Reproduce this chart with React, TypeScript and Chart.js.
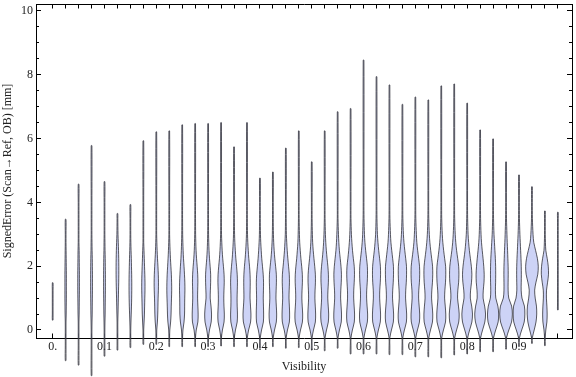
import React, { useEffect, useRef } from "react";
import { Chart, registerables } from "chart.js";

Chart.register(...registerables);

// ---------- data ----------
const categories = [
  0, 0.025, 0.05, 0.075, 0.1, 0.125, 0.15, 0.175, 0.2, 0.225,
  0.25, 0.275, 0.3, 0.325, 0.35, 0.375, 0.4, 0.425, 0.45, 0.475,
  0.5, 0.525, 0.55, 0.575, 0.6, 0.625, 0.65, 0.675, 0.7, 0.725,
  0.75, 0.775, 0.8, 0.825, 0.85, 0.875, 0.9, 0.925, 0.95, 0.975,
];

const minValues = [
  0.31, -0.96, -1.1, -1.43, -0.82, -0.63, -0.55, -0.45, -0.45, -0.52,
  -0.52, -0.52, -0.52, -0.5, -0.52, -0.52, -0.57, -0.52, -0.57, -0.55,
  -0.63, -0.65, -0.57, -0.75, -0.75, -0.75, -0.77, -0.77, -0.84, -0.84,
  -0.87, -0.78, -0.75, -0.68, -0.68, -0.6, -0.52, -0.42, -0.49, 0.63,
];

const maxValues = [
  1.48, 3.47, 4.57, 5.78, 4.65, 3.65, 3.93, 5.93, 6.21, 6.24,
  6.43, 6.47, 6.47, 6.5, 5.74, 6.5, 4.76, 4.95, 5.7, 6.24,
  5.27, 6.24, 6.84, 6.94, 8.46, 7.94, 7.68, 7.07, 7.3, 7.21,
  7.65, 7.71, 7.11, 6.27, 5.99, 5.27, 4.86, 4.49, 3.73, 3.69,
];

// levels at which the violin density (half width) is sampled
const profileLevels = [-0.5, -0.25, 0, 0.25, 0.5, 0.75, 1, 1.25, 1.5, 1.75, 2, 2.25, 2.5, 2.75, 3, 3.5, 4];

// relative density (half width) of each violin at profileLevels
const densityProfiles = [
  [0, 0, 0, 0, 0.3, 0.4, 0.4, 0.4, 0.3, 0, 0, 0, 0, 0, 0, 0, 0],
  [0, 0, 0.2, 0.4, 0.6, 0.7, 0.8, 0.8, 0.8, 0.8, 0.7, 0.6, 0.5, 0.4, 0.3, 0.1, 0],
  [0, 0, 0.2, 0.4, 0.6, 0.7, 0.8, 0.9, 0.9, 0.9, 0.8, 0.7, 0.6, 0.4, 0.3, 0.2, 0.1],
  [0, 0.1, 0.3, 0.5, 0.7, 0.8, 0.9, 1.0, 1.0, 1.0, 0.9, 0.8, 0.6, 0.5, 0.3, 0.2, 0.1],
  [0, 0.1, 0.3, 0.5, 0.7, 0.8, 0.9, 1.0, 1.0, 1.0, 0.9, 0.8, 0.6, 0.5, 0.3, 0.2, 0.1],
  [0, 0.1, 0.2, 0.4, 0.6, 0.8, 1.0, 1.2, 1.4, 1.5, 1.5, 1.4, 1.2, 0.9, 0.6, 0.2, 0],
  [0, 0.1, 0.3, 0.6, 0.9, 1.2, 1.4, 1.5, 1.5, 1.4, 1.2, 1.0, 0.7, 0.5, 0.3, 0.2, 0.1],
  [0, 0.1, 0.3, 0.8, 1.2, 1.4, 1.6, 1.8, 1.8, 1.6, 1.3, 1.0, 0.7, 0.4, 0.3, 0.2, 0.1],
  [0, 0.1, 0.5, 1.2, 1.6, 1.8, 2.0, 2.3, 2.4, 2.2, 1.8, 1.3, 0.9, 0.6, 0.4, 0.2, 0.1],
  [0, 0.1, 0.6, 1.5, 2.0, 2.2, 2.5, 2.7, 2.6, 2.3, 1.8, 1.3, 0.9, 0.6, 0.4, 0.2, 0.1],
  [0, 0.2, 0.8, 2.0, 2.6, 2.7, 2.8, 3.0, 2.9, 2.5, 2.0, 1.4, 1.0, 0.7, 0.5, 0.3, 0.1],
  [0, 0.2, 1.2, 3.0, 3.3, 3.0, 2.7, 2.8, 3.0, 2.8, 2.2, 1.5, 1.0, 0.7, 0.5, 0.3, 0.1],
  [0, 0.3, 1.5, 3.4, 3.8, 3.2, 2.3, 2.5, 2.8, 2.8, 2.2, 1.5, 1.0, 0.7, 0.5, 0.3, 0.1],
  [0, 0.3, 1.5, 3.3, 3.6, 3.2, 3.0, 3.2, 3.5, 3.3, 2.6, 1.8, 1.2, 0.8, 0.5, 0.3, 0.1],
  [0, 0.3, 1.6, 3.5, 3.8, 3.5, 3.4, 3.6, 3.8, 3.5, 2.8, 2.0, 1.4, 0.9, 0.6, 0.3, 0.1],
  [0, 0.3, 1.8, 4.0, 4.4, 3.9, 3.4, 3.5, 3.6, 3.4, 2.8, 2.0, 1.4, 0.9, 0.6, 0.3, 0.1],
  [0, 0.3, 1.8, 3.8, 4.1, 3.9, 3.7, 3.9, 4.0, 3.6, 2.8, 2.0, 1.4, 0.9, 0.6, 0.3, 0.1],
  [0, 0.3, 1.8, 3.8, 4.2, 3.8, 3.4, 3.6, 3.9, 3.8, 3.0, 2.1, 1.4, 0.9, 0.6, 0.3, 0.1],
  [0, 0.3, 1.8, 3.9, 4.2, 3.9, 3.5, 3.7, 4.0, 3.8, 3.0, 2.2, 1.5, 1.0, 0.6, 0.3, 0.1],
  [0, 0.3, 1.9, 4.0, 4.3, 3.8, 3.4, 3.6, 4.0, 3.9, 3.2, 2.3, 1.6, 1.0, 0.7, 0.3, 0.1],
  [0, 0.3, 1.9, 4.0, 4.3, 3.9, 3.5, 3.7, 4.1, 4.0, 3.3, 2.4, 1.6, 1.0, 0.7, 0.3, 0.1],
  [0, 0.3, 2.0, 4.0, 4.4, 3.9, 3.4, 3.6, 4.1, 4.1, 3.5, 2.6, 1.8, 1.2, 0.8, 0.4, 0.1],
  [0, 0.3, 2.0, 4.0, 4.3, 3.8, 3.3, 3.5, 4.0, 4.2, 3.7, 2.8, 1.9, 1.3, 0.9, 0.4, 0.2],
  [0, 0.4, 2.0, 4.1, 4.4, 3.9, 3.4, 3.5, 4.0, 4.3, 4.0, 3.0, 2.1, 1.4, 0.9, 0.4, 0.2],
  [0, 0.4, 2.1, 4.2, 4.5, 3.9, 3.4, 3.5, 4.1, 4.4, 4.2, 3.3, 2.3, 1.5, 1.0, 0.5, 0.2],
  [0, 0.4, 2.1, 4.2, 4.5, 4.0, 3.5, 3.6, 4.2, 4.5, 4.3, 3.4, 2.4, 1.6, 1.0, 0.5, 0.2],
  [0, 0.4, 2.2, 4.3, 4.6, 4.0, 3.4, 3.6, 4.2, 4.5, 4.4, 3.5, 2.5, 1.6, 1.1, 0.5, 0.2],
  [0, 0.4, 2.2, 4.4, 4.7, 4.1, 3.5, 3.7, 4.3, 4.6, 4.5, 3.6, 2.6, 1.7, 1.1, 0.5, 0.2],
  [0, 0.4, 2.3, 4.5, 4.8, 4.2, 3.6, 3.8, 4.5, 4.8, 4.6, 3.6, 2.5, 1.6, 1.1, 0.5, 0.2],
  [0, 0.5, 2.4, 4.6, 4.9, 4.3, 3.6, 3.9, 4.6, 4.9, 4.7, 3.7, 2.6, 1.7, 1.1, 0.5, 0.2],
  [0, 0.5, 2.4, 4.7, 5.0, 4.4, 3.7, 4.0, 4.7, 5.0, 4.8, 3.7, 2.6, 1.7, 1.1, 0.5, 0.2],
  [0, 0.5, 2.6, 5.0, 5.5, 4.7, 3.7, 4.0, 4.9, 5.2, 4.9, 3.8, 2.6, 1.7, 1.1, 0.5, 0.2],
  [0, 0.5, 2.7, 5.2, 5.9, 5.0, 3.5, 3.8, 4.8, 5.2, 4.6, 3.5, 2.4, 1.6, 1.0, 0.5, 0.2],
  [0, 0.5, 2.7, 5.2, 6.0, 5.0, 3.3, 3.5, 4.3, 4.5, 4.0, 3.2, 2.3, 1.5, 1.0, 0.5, 0.2],
  [0, 0.5, 2.9, 5.6, 6.2, 5.3, 3.0, 2.6, 2.8, 2.9, 2.8, 2.5, 2.0, 1.5, 1.0, 0.5, 0.2],
  [0, 0.5, 3.1, 6.1, 7.0, 6.2, 3.0, 2.3, 2.3, 2.4, 2.3, 2.0, 1.7, 1.3, 1.0, 0.5, 0.2],
  [0, 0.5, 3.0, 5.8, 6.5, 6.0, 3.3, 2.4, 2.5, 2.6, 2.5, 2.2, 1.8, 1.4, 1.0, 0.5, 0.2],
  [0, 0.4, 2.5, 4.5, 5.3, 5.0, 3.6, 3.0, 4.5, 6.5, 7.0, 6.0, 4.0, 2.0, 1.2, 0.5, 0.2],
  [0, 0.2, 1.0, 2.2, 2.5, 2.2, 1.7, 1.8, 3.0, 4.0, 3.7, 2.5, 1.0, 0.6, 0.4, 0.2, 0.1],
  [0, 0, 0, 0, 0, 0, 0.2, 0.2, 0.2, 0.2, 0.2, 0.2, 0.2, 0.2, 0.2, 0.1, 0],
];

const yMajorTicks = [0, 2, 4, 6, 8, 10];
const yMinorTicks = [0, 0.5, 1, 1.5, 2, 2.5, 3, 3.5, 4, 4.5, 5, 5.5, 6, 6.5, 7, 7.5, 8, 8.5, 9, 9.5, 10];
const xLabelValues = [0, 0.1, 0.2, 0.3, 0.4, 0.5, 0.6, 0.7, 0.8, 0.9];
const xLabelTexts = ["0.", "0.1", "0.2", "0.3", "0.4", "0.5", "0.6", "0.7", "0.8", "0.9"];
const xAxisTitle = "Visibility";
const yAxisTitle = "SignedError (Scan\u2192Ref, OB) [mm]";

// ---------- styling / layout constants ----------
const X_MIN = -0.0322;
const X_MAX = 1.0023;
const Y_MIN = -0.251;
const Y_MAX = 10.219;
const DENSITY_SCALE = 0.9 / 518; // density units -> x-axis units
const TAIL_HALF = 0.35 / 518; // stroke separation for the thin tails (style)
const FONT = "'Liberation Serif', 'Times New Roman', serif";
const TEXT_COLOR = "#222";
const FILL = "#cdd3f6";
const EDGE = "rgba(60,60,68,0.85)";

function violinPoints(i: number) {
  const cx = categories[i];
  const lo = minValues[i];
  const hi = maxValues[i];
  const d = densityProfiles[i];
  const right: { x: number; y: number }[] = [{ x: cx + TAIL_HALF, y: lo }];
  profileLevels.forEach((lv, k) => {
    if (lv > lo + 0.05 && lv < hi - 0.05) {
      right.push({ x: cx + Math.max(d[k] * DENSITY_SCALE, TAIL_HALF), y: lv });
    }
  });
  right.push({ x: cx + TAIL_HALF, y: hi });
  const left = right
    .slice()
    .reverse()
    .map((p) => ({ x: 2 * cx - p.x, y: p.y }));
  return [...right, ...left, { x: cx + TAIL_HALF, y: lo }];
}

const fixedTicks = (values: number[]) => (scale: any) => {
  scale.ticks = values.map((v) => ({ value: v }));
};

const sizeFit = (w: number | null, h: number | null) => (scale: any) => {
  if (w !== null) scale.width = w;
  if (h !== null) scale.height = h;
  scale.paddingLeft = 0;
  scale.paddingRight = 0;
  scale.paddingTop = 0;
  scale.paddingBottom = 0;
};

const frameAxis = (
  position: string,
  ticks: number[],
  tickLength: number,
  w: number | null,
  h: number | null,
  weight: number,
  isX: boolean
) => ({
  type: "linear",
  position,
  weight,
  min: isX ? X_MIN : Y_MIN,
  max: isX ? X_MAX : Y_MAX,
  afterBuildTicks: fixedTicks(ticks),
  afterFit: sizeFit(w, h),
  grid: {
    drawOnChartArea: false,
    drawTicks: true,
    tickLength,
    tickColor: "#000",
    tickWidth: 1,
  },
  border: { display: true, color: "#000", width: 1 },
  ticks: { display: false, autoSkip: false },
  title: { display: false },
});

export default function App() {
  const ref = useRef<HTMLCanvasElement>(null);

  useEffect(() => {
    if (!ref.current) return;
    const datasets = categories.map((c, i) => ({
      label: String(c),
      data: violinPoints(i),
      xAxisID: "x",
      yAxisID: "y",
      showLine: true,
      fill: "shape",
      backgroundColor: FILL,
      borderColor: EDGE,
      borderWidth: 1,
      tension: 0.3,
      pointRadius: 0,
      pointHoverRadius: 0,
      clip: false,
    }));

    const chart = new Chart(ref.current, {
      type: "line",
      data: { datasets } as any,
      options: {
        animation: false,
        responsive: false,
        maintainAspectRatio: false,
        events: [],
        layout: { padding: { left: 0, top: 4, right: 4, bottom: 0 } },
        plugins: { legend: { display: false }, tooltip: { enabled: false } },
        elements: { line: { capBezierPoints: false } },
        scales: {
          x: {
            type: "linear",
            position: "bottom",
            min: X_MIN,
            max: X_MAX,
            afterBuildTicks: fixedTicks(categories),
            afterFit: sizeFit(null, 39),
            grid: { drawOnChartArea: false, drawTicks: true, tickLength: -4.5, tickColor: "#000", tickWidth: 1 },
            border: { display: true, color: "#000", width: 1 },
            ticks: {
              autoSkip: false,
              maxRotation: 0,
              minRotation: 0,
              padding: 6.5,
              color: TEXT_COLOR,
              font: { family: FONT, size: 12 },
              callback: (value: any) => {
                const k = xLabelValues.findIndex((v) => Math.abs(v - Number(value)) < 1e-6);
                return k >= 0 ? xLabelTexts[k] : "";
              },
            },
            title: {
              display: true,
              text: xAxisTitle,
              color: TEXT_COLOR,
              font: { family: FONT, size: 12 },
              padding: { top: 0, bottom: 2.8 },
            },
          },
          xTop: frameAxis("top", categories, -4.5, null, 0, 0, true),
          y: {
            type: "linear",
            position: "left",
            weight: 1,
            min: Y_MIN,
            max: Y_MAX,
            afterBuildTicks: fixedTicks(yMajorTicks),
            afterFit: sizeFit(36, null),
            grid: { drawOnChartArea: false, drawTicks: true, tickLength: -5, tickColor: "#000", tickWidth: 1 },
            border: { display: true, color: "#000", width: 1 },
            ticks: {
              autoSkip: false,
              padding: 8,
              color: TEXT_COLOR,
              font: { family: FONT, size: 12 },
              callback: (value: any) => String(value),
            },
            title: {
              display: true,
              text: yAxisTitle,
              color: TEXT_COLOR,
              font: { family: FONT, size: 12 },
              padding: { top: 0.5, bottom: 0 },
            },
          },
          yMinor: frameAxis("left", yMinorTicks, -3, 0, null, 0, false),
          yRight: frameAxis("right", yMajorTicks, -5, 0, null, 0, false),
          yRightMinor: frameAxis("right", yMinorTicks, -3, 0, null, 1, false),
        } as any,
      },
    } as any);
    return () => chart.destroy();
  }, []);

  return (
    <div style={{ position: "fixed", left: 0, top: 0, width: 576, height: 377, background: "#fff" }}>
      <canvas ref={ref} width={576} height={377} style={{ width: 576, height: 377, display: "block" }} />
    </div>
  );
}
